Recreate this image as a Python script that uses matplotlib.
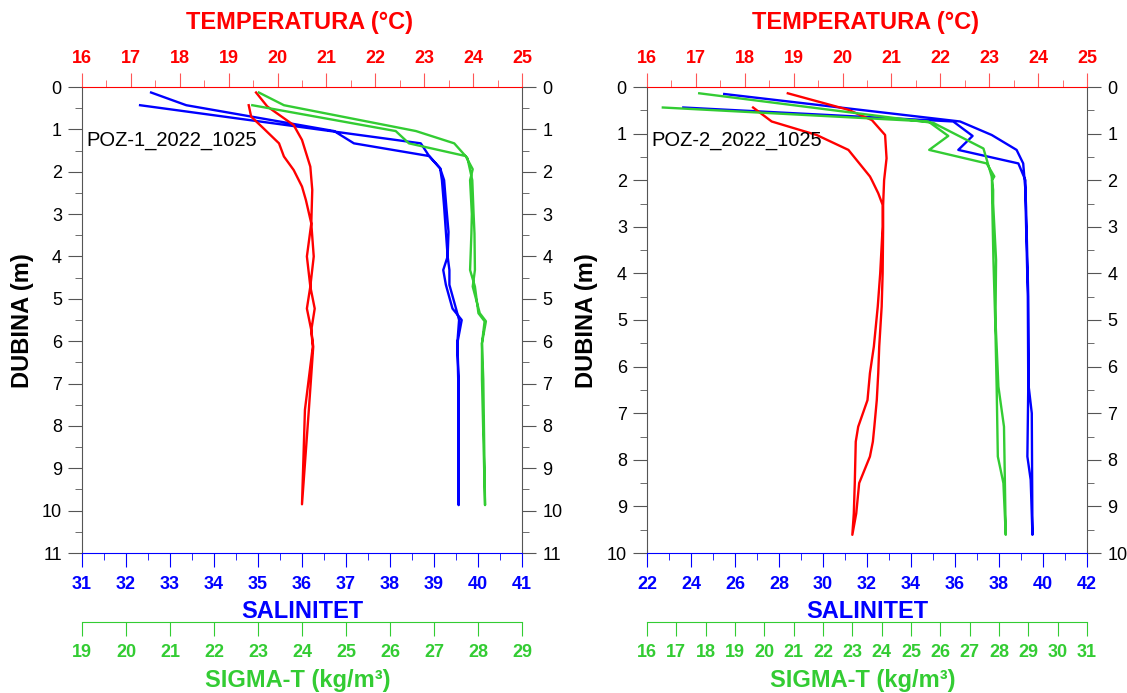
import matplotlib
matplotlib.use("Agg")
import matplotlib.pyplot as plt
from matplotlib.ticker import MultipleLocator, NullLocator

plt.rcParams['font.family'] = ['Liberation Sans', 'DejaVu Sans']

RED = '#ff0000'
BLUE = '#0000ff'
GREEN = '#33cc33'
GREY = '#555555'

# ---- POZ-1: cast down (A) then back up (B) ----
p1_temp_depth = [0.13, 0.46, 0.9, 1.25, 1.88, 2.43, 3.22, 4.0, 4.71, 5.23, 5.74, 6.13, 7.62, 9.85,
                 7.62, 6.13, 5.74, 5.23, 4.71, 4.0, 3.22, 2.67, 2.35, 1.96, 1.64, 1.33, 0.94, 0.7, 0.43]
p1_temp = [19.56, 19.79, 20.33, 20.50, 20.67, 20.71, 20.69, 20.60, 20.67, 20.76, 20.69, 20.73, 20.64, 20.50,
           20.56, 20.72, 20.69, 20.60, 20.67, 20.74, 20.69, 20.58, 20.50, 20.33, 20.13, 20.03, 19.68, 19.46, 19.41]

p1_sal_depth = [0.13, 0.43, 1.04, 1.33, 1.63, 1.92, 2.2, 2.83, 3.42, 4.0, 4.32, 4.67, 5.23, 5.5, 6.05, 6.9, 9.87,
                6.9, 6.05, 5.5, 5.23, 4.67, 4.32, 4.0, 3.42, 2.83, 2.2, 1.92, 1.63, 1.33, 0.43]
p1_sal = [32.57, 33.37, 36.73, 37.18, 38.89, 39.14, 39.18, 39.23, 39.27, 39.31, 39.21, 39.27, 39.42, 39.63, 39.53, 39.56, 39.56,
          39.55, 39.53, 39.57, 39.50, 39.35, 39.35, 39.31, 39.33, 39.28, 39.23, 39.14, 38.89, 38.70, 32.32]

p1_sig_depth = [0.13, 0.43, 1.04, 1.33, 1.68, 2.2, 3.0, 3.46, 4.32, 4.71, 5.34, 5.53, 6.05, 6.9, 9.87,
                6.9, 6.05, 5.53, 5.34, 4.71, 4.32, 3.46, 3.0, 2.2, 1.94, 1.63, 1.33, 1.04, 0.43]
p1_sig = [23.02, 23.59, 26.59, 27.46, 27.76, 27.87, 27.90, 27.92, 27.93, 27.88, 28.04, 28.18, 28.09, 28.12, 28.16,
          28.09, 28.09, 28.15, 28.01, 27.93, 27.82, 27.85, 27.86, 27.82, 27.88, 27.72, 26.43, 26.13, 22.87]

# ---- POZ-2 ----
p2_temp_depth = [0.135, 0.49, 0.71, 1.03, 1.53, 2.0, 2.53, 3.0, 4.0, 4.71, 5.57, 6.14, 6.72, 7.29, 7.61, 7.93, 8.5, 9.15, 9.61,
                 9.15, 8.5, 7.61, 7.29, 6.72, 6.14, 5.57, 4.71, 4.0, 3.0, 2.53, 2.28, 2.0, 1.92, 1.35, 1.03, 0.74, 0.44]
p2_temp = [18.88, 20.12, 20.60, 20.87, 20.90, 20.85, 20.83, 20.83, 20.82, 20.80, 20.75, 20.73, 20.70, 20.65, 20.62, 20.56, 20.34, 20.28, 20.20,
           20.23, 20.25, 20.27, 20.32, 20.51, 20.56, 20.64, 20.72, 20.77, 20.82, 20.82, 20.73, 20.60, 20.56, 20.12, 19.47, 18.55, 18.17]

p2_sal_depth = [0.15, 0.74, 1.03, 1.35, 1.64, 2.21, 2.57, 4.5, 6.43, 7.0, 9.61,
                8.43, 7.93, 6.43, 4.5, 2.57, 2.0, 1.64, 1.35, 1.05, 0.74, 0.44]
p2_sal = [25.51, 36.23, 37.67, 38.80, 39.10, 39.20, 39.23, 39.33, 39.35, 39.49, 39.52,
          39.44, 39.29, 39.33, 39.31, 39.21, 39.20, 38.88, 36.15, 36.80, 35.92, 23.65]

p2_sig_depth = [0.135, 0.77, 1.32, 1.92, 2.21, 2.5, 3.71, 5.0, 6.43, 7.29, 9.61,
                8.5, 7.93, 6.43, 5.0, 3.71, 2.5, 2.0, 1.92, 1.64, 1.35, 1.05, 0.74, 0.44]
p2_sig = [17.78, 25.76, 27.47, 27.75, 27.80, 27.80, 27.90, 27.88, 27.98, 28.17, 28.23,
          28.15, 27.96, 27.92, 27.87, 27.81, 27.77, 27.76, 27.84, 27.58, 25.62, 26.27, 25.59, 16.54]

W, H = 1127, 693
fig = plt.figure(figsize=(W / 100, H / 100), dpi=100)


def panel(left_px, name, dmax, sal_lim, sal_step, sig_lim, data):
    x0 = left_px / W
    ax = fig.add_axes([x0, (H - 553) / H, 440 / W, 466 / H])
    (td, tv), (sd, sv), (gd, gv) = data

    # depth + salinity (main axes)
    ax.set_ylim(dmax, 0)
    ax.set_xlim(*sal_lim)
    ax.yaxis.set_major_locator(MultipleLocator(1))
    ax.yaxis.set_minor_locator(MultipleLocator(0.5))
    ax.tick_params(axis='y', which='both', left=True, right=True, labelleft=True, labelright=True,
                   direction='out', color=GREY, labelsize=13, pad=4.5)
    ax.tick_params(axis='y', which='major', length=10)
    ax.tick_params(axis='y', which='minor', length=5)
    sal_ticks = list(range(sal_lim[0], sal_lim[1] + 1, sal_step))
    ax.set_xticks(sal_ticks)
    ax.set_xticklabels([str(t) for t in sal_ticks], fontweight='bold', color=BLUE, fontsize=13)
    ax.xaxis.set_minor_locator(MultipleLocator(sal_step / 2))
    ax.tick_params(axis='x', which='both', direction='out', color=BLUE, pad=6.5)
    ax.tick_params(axis='x', which='major', length=10)
    ax.tick_params(axis='x', which='minor', length=5)
    ax.spines['bottom'].set_color(BLUE)
    ax.spines['top'].set_visible(False)
    for s in ('left', 'right'):
        ax.spines[s].set_color(GREY)
    ax.plot(sv, sd, color=BLUE, lw=1.7)

    # temperature (top)
    at = ax.twiny()
    at.set_xlim(16, 25)
    at.set_xticks(range(16, 26))
    at.set_xticklabels([str(t) for t in range(16, 26)], fontweight='bold', color=RED, fontsize=13)
    at.xaxis.set_minor_locator(MultipleLocator(0.5))
    at.tick_params(axis='x', which='both', direction='out', color='#ff5555', pad=4.5)
    at.tick_params(axis='x', which='major', length=10)
    at.tick_params(axis='x', which='minor', length=5)
    for s in ('left', 'right', 'bottom'):
        at.spines[s].set_visible(False)
    at.spines['top'].set_color(RED)
    at.plot(tv, td, color=RED, lw=1.7)

    # sigma-t (second bottom axis)
    ag = ax.twiny()
    ag.set_xlim(*sig_lim)
    ag.xaxis.set_ticks_position('bottom')
    ag.spines['bottom'].set_position(('outward', 49.7))
    for s in ('left', 'right', 'top'):
        ag.spines[s].set_visible(False)
    ag.spines['bottom'].set_color(GREEN)
    sig_ticks = list(range(sig_lim[0], sig_lim[1] + 1))
    ag.set_xticks(sig_ticks)
    ag.set_xticklabels([str(t) for t in sig_ticks], fontweight='bold', color=GREEN, fontsize=13)
    ag.xaxis.set_minor_locator(NullLocator())
    ag.tick_params(axis='x', direction='out', color=GREEN, length=10, pad=6)
    ag.plot(gv, gd, color=GREEN, lw=1.7)

    cx = (left_px + 220) / W
    fig.text(cx - 2 / W, 1 - 22 / H, 'TEMPERATURA (°C)', color=RED, fontsize=17, fontweight='bold',
             ha='center', va='center')
    fig.text(cx, 1 - 612 / H, 'SALINITET', color=BLUE, fontsize=17, fontweight='bold',
             ha='center', va='center')
    fig.text(cx - 4 / W, 1 - 681 / H, 'SIGMA-T (kg/m³)', color=GREEN, fontsize=17, fontweight='bold',
             ha='center', va='center')
    fig.text((left_px - 60) / W, 1 - 321 / H, 'DUBINA (m)', color='black', fontsize=17,
             fontweight='bold', rotation=90, ha='center', va='center')
    fig.text((left_px + 4) / W, 1 - 141 / H, name, color='black', fontsize=14.5,
             ha='left', va='center')


panel(82, 'POZ-1_2022_1025', 11, (31, 41), 1, (19, 29),
      ((p1_temp_depth, p1_temp), (p1_sal_depth, p1_sal), (p1_sig_depth, p1_sig)))
panel(647, 'POZ-2_2022_1025', 10, (22, 42), 2, (16, 31),
      ((p2_temp_depth, p2_temp), (p2_sal_depth, p2_sal), (p2_sig_depth, p2_sig)))

fig.savefig('out.png', dpi=100)
